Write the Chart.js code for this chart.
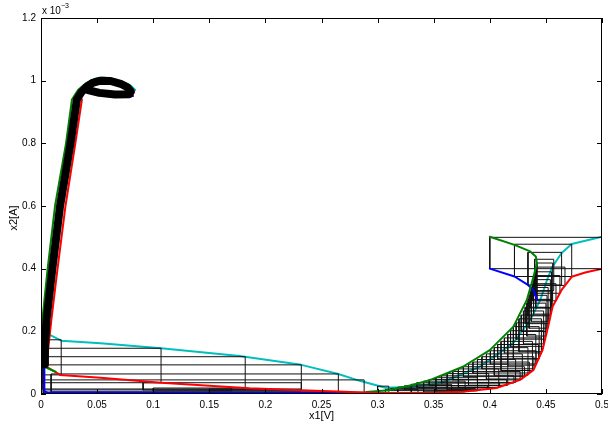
<!DOCTYPE html>
<html>
<head>
<meta charset="utf-8">
<script src="https://cdn.jsdelivr.net/npm/chart.js@4/dist/chart.umd.min.js"></script>
<style>
  html, body { margin: 0; padding: 0; background: #fff; }
</style>
</head>
<body>
<canvas id="myChart" width="608" height="430"></canvas>
<script>
// x1 in volts, x2 in units of 1e-3 A (axis shows "x 10^-3")
var xTicks = [0, 0.05, 0.1, 0.15, 0.2, 0.25, 0.3, 0.35, 0.4, 0.45, 0.5];
var yTicks = [0, 0.2, 0.4, 0.6, 0.8, 1, 1.2];

// corner trajectories of the initial box [0.4,0.5] x [0.4,0.5]e-3
var greenX = [0.400, 0.422, 0.436, 0.441, 0.442, 0.439, 0.433, 0.421, 0.400, 0.376, 0.347, 0.330, 0.310, 0.290];
var greenY = [0.502, 0.476, 0.455, 0.439, 0.418, 0.375, 0.300, 0.215, 0.140, 0.087, 0.045, 0.028, 0.012, 0.006];
var greenX2 = [0.013, 0.003, 0.0005, 0.0012, 0.0058, 0.0125, 0.0223, 0.0276, 0.033, 0.040, 0.047];
var greenY2 = [0.071, 0.087, 0.150, 0.236, 0.396, 0.600, 0.800, 0.940, 0.970, 0.992, 1.003];

var cyanX = [0.500, 0.473, 0.464, 0.456, 0.451, 0.445, 0.436, 0.421, 0.391, 0.356, 0.330, 0.307, 0.284, 0.265, 0.232, 0.177, 0.107, 0.053, 0.018, 0.007, 0.004];
var cyanY = [0.502, 0.479, 0.450, 0.407, 0.364, 0.300, 0.236, 0.163, 0.087, 0.035, 0.022, 0.020, 0.042, 0.064, 0.093, 0.121, 0.146, 0.162, 0.170, 0.190, 0.220];
var cyanX2 = [0.042, 0.048, 0.055, 0.064, 0.073, 0.080, 0.084];
var cyanY2 = [0.993, 1.006, 1.010, 1.006, 0.996, 0.984, 0.970];

var redX = [0.500, 0.485, 0.473, 0.464, 0.456, 0.452, 0.447, 0.439, 0.427, 0.406, 0.376, 0.347, 0.300, 0.270, 0.232, 0.186, 0.107, 0.053, 0.017, 0.005, 0.006, 0.0092, 0.0146, 0.0218, 0.0306, 0.0365];
var redY = [0.400, 0.388, 0.374, 0.332, 0.279, 0.215, 0.140, 0.077, 0.045, 0.019, 0.007, 0.003, 0.003, 0.007, 0.012, 0.018, 0.036, 0.052, 0.061, 0.087, 0.130, 0.236, 0.396, 0.600, 0.800, 0.940];
var redX2 = [0.068, 0.078, 0.083];
var redY2 = [0.950, 0.953, 0.962];

var blueX = [0.400, 0.422, 0.434, 0.439, 0.442];
var blueY = [0.400, 0.375, 0.348, 0.332, 0.300];
var blueX2 = [0.300, 0.150, 0.050, 0.006, 0.003, 0.003];
var blueY2 = [0.004, 0.004, 0.005, 0.005, 0.008, 0.087];
var blueX3 = [0.041, 0.050, 0.062, 0.074, 0.082];
var blueY3 = [0.966, 0.958, 0.952, 0.950, 0.951];

// dense run of tiny boxes, drawn as one thick black band
var bandX = [0.003, 0.0035, 0.0049, 0.0100, 0.017, 0.0263, 0.032, 0.036, 0.040, 0.046, 0.053, 0.062, 0.071, 0.077, 0.080, 0.079, 0.066, 0.052, 0.042];
var bandY = [0.095, 0.150, 0.236, 0.396, 0.600, 0.800, 0.940, 0.963, 0.978, 0.993, 1.000, 0.999, 0.990, 0.979, 0.966, 0.957, 0.956, 0.961, 0.970];

// reachable-set boxes: x1 range and x2 range
var boxX0 = [0.400, 0.422, 0.434, 0.440,
    0.442, 0.4415, 0.441, 0.440, 0.439, 0.438, 0.437, 0.436, 0.435, 0.434, 0.433, 0.4315, 0.430, 0.428, 0.426, 0.4235, 0.421, 0.4185, 0.416, 0.413, 0.410, 0.407, 0.404, 0.4005, 0.397, 0.393, 0.389, 0.385, 0.381, 0.3765, 0.372, 0.367, 0.362, 0.357, 0.352, 0.346, 0.341, 0.335, 0.330, 0.324, 0.318, 0.312, 0.307,
    0.300, 0.002, 0.009, 0.091, 0.002, 0.002, 0.002, 0.002, 0.100, 0.150];
var boxX1 = [0.500, 0.473, 0.464, 0.457,
    0.456, 0.467, 0.455, 0.4625, 0.454, 0.459, 0.452, 0.4557, 0.451, 0.454, 0.450, 0.4526, 0.448, 0.451, 0.446, 0.4493, 0.444, 0.4478, 0.441, 0.446, 0.438, 0.4435, 0.434, 0.4413, 0.429, 0.4393, 0.423, 0.4352, 0.416, 0.431, 0.408, 0.427, 0.399, 0.4215, 0.389, 0.415, 0.378, 0.4085, 0.366, 0.398, 0.352, 0.387, 0.336,
    0.310, 0.288, 0.265, 0.232, 0.232, 0.182, 0.107, 0.018, 0.170, 0.232];
var boxY0 = [0.400, 0.375, 0.348, 0.330,
    0.300, 0.3465, 0.275, 0.3215, 0.255, 0.2975, 0.232, 0.2745, 0.210, 0.2495, 0.185, 0.2245, 0.160, 0.1995, 0.135, 0.175, 0.112, 0.152, 0.092, 0.131, 0.075, 0.1125, 0.060, 0.096, 0.048, 0.0805, 0.037, 0.067, 0.028, 0.0555, 0.021, 0.045, 0.015, 0.035, 0.010, 0.027, 0.007, 0.021, 0.005, 0.0153, 0.004, 0.0108, 0.003,
    0.003, 0.004, 0.007, 0.013, 0.013, 0.016, 0.036, 0.061, 0.010, 0.010];
var boxY1 = [0.500, 0.478, 0.452, 0.430,
    0.418, 0.405, 0.390, 0.378, 0.365, 0.352, 0.340, 0.328, 0.315, 0.302, 0.290, 0.277, 0.265, 0.252, 0.240, 0.227, 0.215, 0.202, 0.190, 0.179, 0.168, 0.158, 0.148, 0.138, 0.128, 0.119, 0.110, 0.102, 0.095, 0.087, 0.080, 0.072, 0.065, 0.058, 0.052, 0.046, 0.041, 0.036, 0.031, 0.026, 0.022, 0.018, 0.015,
    0.025, 0.045, 0.064, 0.036, 0.093, 0.119, 0.146, 0.173, 0.019, 0.016];

function pts(xs, ys) {
    var out = [];
    for (var i = 0; i < xs.length; i++) out.push({ x: xs[i], y: ys[i] });
    return out;
}

// each box as a closed outline, NaN breaks the line between boxes
function boxPts() {
    var out = [];
    for (var i = 0; i < boxX0.length; i++) {
        out.push({ x: boxX0[i], y: boxY0[i] });
        out.push({ x: boxX1[i], y: boxY0[i] });
        out.push({ x: boxX1[i], y: boxY1[i] });
        out.push({ x: boxX0[i], y: boxY1[i] });
        out.push({ x: boxX0[i], y: boxY0[i] });
        out.push({ x: NaN, y: NaN });
    }
    return out;
}

function line(data, color, width, order) {
    return {
        data: data,
        showLine: true,
        borderColor: color,
        backgroundColor: color,
        borderWidth: width,
        pointRadius: 0,
        fill: false,
        spanGaps: false,
        tension: 0,
        borderJoinStyle: 'round',
        borderCapStyle: 'round',
        order: order
    };
}

var fmt = function (v) { return String(Math.round(v * 100) / 100); };

// MATLAB-ish frame: box, inward ticks, exponent and axis titles
var matlabFrame = {
    id: 'matlabFrame',
    afterDatasetsDraw: function (chart) {
        var c = chart.ctx, a = chart.chartArea;
        var xs = chart.scales.x, ys = chart.scales.y;
        c.save();
        c.strokeStyle = '#000';
        c.lineWidth = 1;
        c.strokeRect(Math.round(a.left) + 0.5, Math.round(a.top) + 0.5,
            Math.round(a.right - a.left) - 1, Math.round(a.bottom - a.top) - 1);
        c.beginPath();
        xTicks.forEach(function (v) {
            var p = Math.round(xs.getPixelForValue(v)) + 0.5;
            c.moveTo(p, a.bottom); c.lineTo(p, a.bottom - 5);
            c.moveTo(p, a.top); c.lineTo(p, a.top + 5);
        });
        yTicks.forEach(function (v) {
            var p = Math.round(ys.getPixelForValue(v)) + 0.5;
            c.moveTo(a.left, p); c.lineTo(a.left + 5, p);
            c.moveTo(a.right, p); c.lineTo(a.right - 5, p);
        });
        c.stroke();

        c.fillStyle = '#000';
        c.font = '10px "Liberation Sans", Arial, sans-serif';
        c.textBaseline = 'alphabetic';
        c.textAlign = 'left';
        c.fillText('x 10', a.left + 1, a.top - 4);
        c.font = '7px "Liberation Sans", Arial, sans-serif';
        c.fillText('\u22123', a.left + 20, a.top - 10);

        c.font = '11px "Liberation Sans", Arial, sans-serif';
        c.textAlign = 'center';
        c.textBaseline = 'middle';
        c.fillText('x1[V]', (a.left + a.right) / 2, a.bottom + 22);
        c.translate(14, (a.top + a.bottom) / 2 + 12);
        c.rotate(-Math.PI / 2);
        c.fillText('x2[A]', 0, 0);
        c.restore();
    }
};

var ctx = document.getElementById('myChart');

var myChart = new Chart(ctx, {
    type: 'scatter',
    data: {
        datasets: [
            line(pts(bandX, bandY), '#000000', 8, 1),
            line(pts(greenX2, greenY2), '#008000', 2, 2),
            line(pts(redX, redY), '#ff0000', 2, 2),
            line(pts(cyanX2, cyanY2), '#00bfbf', 2, 2),
            line(pts(redX2, redY2), '#ff0000', 2, 2),
            line(pts(blueX3, blueY3), '#0000ff', 2, 2),
            line(pts(greenX, greenY), '#008000', 2, 3),
            line(pts(blueX, blueY), '#0000ff', 2, 3),
            line(pts(blueX2, blueY2), '#0000ff', 2, 3),
            line(boxPts(), '#111111', 1, 4),
            line(pts(cyanX, cyanY), '#00bfbf', 2, 5)
        ]
    },
    options: {
        responsive: false,
        animation: false,
        events: [],
        layout: { padding: { left: 0, right: 6, top: 18, bottom: 0 } },
        plugins: {
            legend: { display: false },
            tooltip: { enabled: false },
            title: { display: false }
        },
        scales: {
            x: {
                type: 'linear',
                min: 0,
                max: 0.5,
                afterBuildTicks: function (s) { s.ticks = xTicks.map(function (v) { return { value: v }; }); },
                afterFit: function (s) { s.height = 36; s.paddingLeft = 0; s.paddingRight = 0; },
                grid: { display: false, drawTicks: false },
                border: { display: false },
                ticks: {
                    padding: 5,
                    maxRotation: 0,
                    color: '#000',
                    font: { family: '"Liberation Sans", Arial, sans-serif', size: 10 },
                    callback: fmt
                }
            },
            y: {
                type: 'linear',
                min: 0,
                max: 1.2,
                afterBuildTicks: function (s) { s.ticks = yTicks.map(function (v) { return { value: v }; }); },
                afterFit: function (s) { s.width = 41; s.paddingTop = 0; s.paddingBottom = 0; },
                grid: { display: false, drawTicks: false },
                border: { display: false },
                ticks: {
                    padding: 5,
                    color: '#000',
                    font: { family: '"Liberation Sans", Arial, sans-serif', size: 10 },
                    callback: fmt
                }
            }
        }
    },
    plugins: [matlabFrame]
});
</script>
</body>
</html>
